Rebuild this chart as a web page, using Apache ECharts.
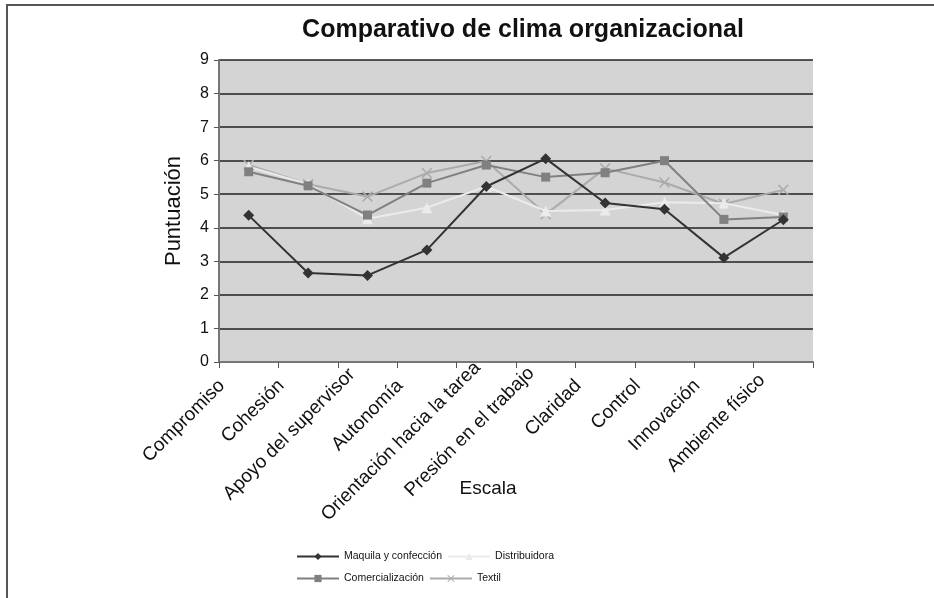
<!DOCTYPE html>
<html><head><meta charset="utf-8">
<script src="https://cdn.jsdelivr.net/npm/echarts@6/dist/echarts.min.js"></script>
<style>html,body{margin:0;padding:0;background:#fff}#c{width:934px;height:598px}</style>
</head><body><div id="c"></div>
<script>
var categories = ['Compromiso','Cohesión','Apoyo del supervisor','Autonomía','Orientación hacia la tarea','Presión en el trabajo','Claridad','Control','Innovación','Ambiente físico'];
var maquila = [4.37, 2.65, 2.58, 3.34, 5.23, 6.06, 4.74, 4.55, 3.11, 4.24];
var comercializacion = [5.67, 5.25, 4.38, 5.33, 5.87, 5.51, 5.64, 6.0, 4.25, 4.32];
var distribuidora = [5.82, 5.3, 4.27, 4.6, 5.23, 4.5, 4.53, 4.76, 4.73, 4.38];
var textil = [5.87, 5.3, 4.93, 5.63, 5.99, 4.4, 5.77, 5.35, 4.71, 5.13];
var yTicks = [0,1,2,3,4,5,6,7,8,9];

var xSym = 'path://M0,1L1,0L5,4L9,0L10,1L6,5L10,9L9,10L5,6L1,10L0,9L4,5Z';
var chart = echarts.init(document.getElementById('c'));
var font = 'Liberation Sans, Arial, sans-serif';
function ser(name, data, color, symbol, size, z){
  return {name:name, type:'line', data:data, symbol:symbol, symbolSize:size, z:z,
    lineStyle:{color:color, width:2}, itemStyle:{color:color}, animation:false};
}
// Excel shifts long rotated labels toward the axis; emulate with per-length padding
var rich = {};
for (var n = 0; n <= 40; n++) {
  var p = 38 - Math.max(0, n - 10) * 1.6;
  rich['p' + n] = {fontSize:19, color:'#111', fontFamily:font, padding:[0, p, 0, 0]};
}
chart.setOption({
  backgroundColor:'#fff',
  animation:false,
  textStyle:{fontFamily:font},
  title:{text:'Comparativo de clima organizacional', left:518, top:13, textAlign:'center',
    textStyle:{fontSize:25, fontWeight:'bold', color:'#111', fontFamily:font}},
  graphic:[{type:'rect', shape:{x:7,y:5,width:940,height:600}, style:{fill:null, stroke:'#555', lineWidth:2}, z:-1}],
  grid:{left:219, right:121, top:60, bottom:236},
  legend:[
    {data:['Maquila y confección','Distribuidora'], left:291, top:546, itemWidth:42, itemHeight:9, itemGap:5,
      textStyle:{fontSize:10.5, color:'#111', width:192, fontFamily:font}},
    {data:['Comercialización','Textil'], left:291, top:568, itemWidth:42, itemHeight:9, itemGap:5,
      textStyle:{fontSize:10.5, color:'#111', width:192, fontFamily:font}}
  ],
  xAxis:{type:'category', data:categories, boundaryGap:true,
    name:'Escala', nameLocation:'middle', nameGap:117, nameMoveOverlap:false,
    nameTextStyle:{fontSize:19, color:'#111', padding:[0,56,0,0]},
    axisLine:{lineStyle:{color:'#777', width:2}},
    axisTick:{show:true, alignWithLabel:false, length:6, lineStyle:{color:'#555'}},
    axisLabel:{rotate:45, fontSize:19, color:'#111', margin:-6, interval:0, hideOverlap:false,
      formatter:function(v){ return '{p' + Math.min(40, v.length) + '|' + v + '}'; }, rich:rich}
  },
  yAxis:{type:'value', min:0, max:9, interval:1,
    name:'Puntuación', nameLocation:'middle', nameGap:34, nameMoveOverlap:false,
    nameTextStyle:{fontSize:22, color:'#111'},
    axisLine:{show:true, lineStyle:{color:'#777', width:2}},
    axisTick:{show:true, length:5, lineStyle:{color:'#555'}},
    axisLabel:{fontSize:16, color:'#111', margin:10, formatter:function(v){return yTicks.indexOf(v)>=0?String(v):'';}},
    splitLine:{lineStyle:{color:'#222', width:1.5}},
    splitArea:{show:true, areaStyle:{color:['#d4d4d4','#d4d4d4']}}
  },
  series:[
    ser('Maquila y confección', maquila, '#333333', 'diamond', 11, 5),
    ser('Distribuidora', distribuidora, '#ebebeb', 'triangle', 11, 3),
    ser('Comercialización', comercializacion, '#808080', 'rect', 9, 4),
    ser('Textil', textil, '#ababab', xSym, 11, 2)
  ]
});
</script></body></html>
